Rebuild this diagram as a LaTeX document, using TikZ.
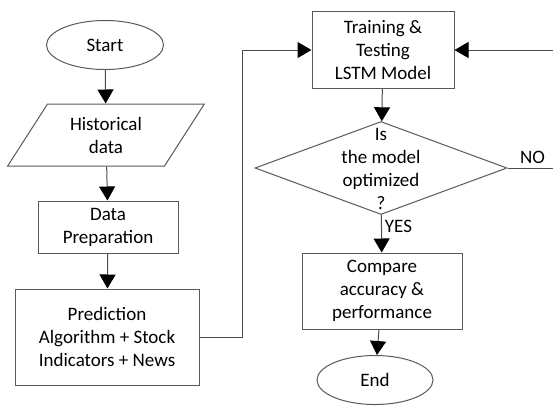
\documentclass[tikz,border=0pt]{standalone}
\usepackage{fontspec}
\setmainfont{Carlito}
\usepackage{tikz}
\usetikzlibrary{shapes.geometric}
\usetikzlibrary{arrows.meta}
\tikzset{every node/.style={font=\fontsize{19}{23}\selectfont, align=center, inner sep=0pt},
 boxed/.style={draw=black!65, line width=1pt, rectangle},
 term/.style={draw=black!65, line width=1pt, ellipse, minimum width=117pt, minimum height=49pt},
 iobox/.style={draw=black!65, line width=1pt, trapezium, trapezium left angle=56, trapezium right angle=124, trapezium stretches=true, minimum width=197pt, minimum height=62pt},
 decide/.style={draw=black!65, line width=1pt, diamond, aspect=2.7, minimum width=252pt, minimum height=93pt},
 arr/.style={draw=black!70, line width=1pt, -{Triangle[width=16pt,length=14pt,color=black]}},
 }

\begin{document}
\begin{tikzpicture}[x=1pt, y=-1pt]
        \useasboundingbox (0, 0) rectangle (553, 405);
        \node [term] (start) at (105, 45) {Start};
        \node [iobox] (hist) at (106, 135) {Historical\\data};
        \node [boxed, minimum width=140pt, minimum height=52pt] (prep) at (108, 227) {Data\\Preparation};
        \node [boxed, minimum width=184pt, minimum height=96pt] (pred) at (107, 337) {Prediction\\Algorithm + Stock\\Indicators + News};
        \node [boxed, minimum width=142pt, minimum height=77pt] (train) at (383, 50) {Training \&\\Testing\\LSTM Model};
        \node [decide] (check) at (381, 168) {\raisebox{-14pt}{\smash{\begin{tabular}{@{}c@{}}Is\\the model\\optimized\\?\end{tabular}}}};
        \node [boxed, minimum width=160pt, minimum height=76pt] (cmp) at (382, 291) {Compare\\accuracy \&\\performance};
        \node [term, minimum width=116pt] (stop) at (375, 380) {End};
        \coordinate (back) at (570, 168);
        \draw [arr] (start) -- (hist);
        \draw [arr] (hist) -- (prep);
        \draw [arr] (prep) -- (pred);
        \draw [arr] (pred.east) -- ++(43, 0) |- (train.west);
        \draw [arr] (train) -- (check);
        \draw [arr] (check) -- node [right=3pt, pos=0.3] {YES} (cmp);
        \draw [arr] (check.east) -- node [above=4pt, pos=0.4] {NO} (back) |- (train.east);
        \draw [arr] (cmp) -- (stop);
    \end{tikzpicture}
\end{document}
